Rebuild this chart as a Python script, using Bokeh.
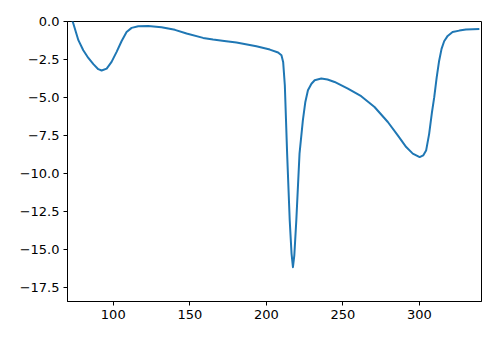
from bokeh.plotting import figure
from bokeh.models import FixedTicker, Range1d
from bokeh.embed import file_html
from bokeh.resources import INLINE

x_vals = [72, 73.9, 77.2, 80.4, 83.7, 87, 90.2, 92.4, 95.7, 98.9, 102.2, 105.4, 108.7,
          112, 116.3, 122.8, 131.5, 140.3, 147.9, 158.7, 165.2, 172.5, 180.5, 193.5,
          202.3, 207.7, 209.9, 211, 212.1, 213.6, 215.3, 216.5, 217.4, 218.3, 219.6,
          221.7, 223.9, 225.5, 227.2, 229.5, 231.6, 235.9, 240, 244.6, 253.3, 262,
          270.7, 279.4, 285.9, 291.4, 295.7, 300.2, 302.5, 304.4, 306.4, 308.2, 309.7,
          311.3, 312.9, 314.5, 316.2, 318.5, 321.7, 326.1, 330.4, 339.2]
y_vals = [0.4, -0.13, -1.23, -1.89, -2.4, -2.81, -3.14, -3.23, -3.1, -2.66, -2.0, -1.3,
          -0.69, -0.42, -0.31, -0.29, -0.38, -0.55, -0.79, -1.08, -1.19, -1.29, -1.39,
          -1.63, -1.85, -2.04, -2.22, -2.66, -4.2, -8.7, -13.1, -15.3, -16.18, -15.4,
          -13.1, -8.7, -6.5, -5.3, -4.53, -4.1, -3.87, -3.76, -3.82, -3.98, -4.42, -4.92,
          -5.63, -6.62, -7.5, -8.27, -8.7, -8.93, -8.82, -8.5, -7.4, -6.0, -5.0, -3.7,
          -2.6, -1.8, -1.3, -0.95, -0.69, -0.6, -0.53, -0.49]

x_ticks = [100, 150, 200, 250, 300]
y_ticks = [0, -2.5, -5, -7.5, -10, -12.5, -15, -17.5]
y_tick_labels = ["0.0", "\u22122.5", "\u22125.0", "\u22127.5", "\u221210.0", "\u221212.5",
                 "\u221215.0", "\u221217.5"]

p = figure(width=500, height=340, output_backend="svg", toolbar_location=None,
           x_range=Range1d(70.1, 340.6), y_range=Range1d(-18.44, 0))
p.min_border_left = 67
p.min_border_right = 18
p.min_border_top = 21
p.min_border_bottom = 39
p.frame_width = 414
p.frame_height = 280

p.line(x_vals, y_vals, line_color="#1f77b4", line_width=2, line_join="round")

p.xgrid.visible = False
p.ygrid.visible = False
p.outline_line_color = "black"
p.outline_line_alpha = 1
p.outline_line_width = 1

p.xaxis.ticker = FixedTicker(ticks=x_ticks)
p.yaxis.ticker = FixedTicker(ticks=y_ticks)
p.yaxis.major_label_overrides = {t: l for t, l in zip(y_ticks, y_tick_labels)}
for ax in (p.xaxis, p.yaxis):
    ax.axis_line_color = "black"
    ax.major_tick_line_color = "black"
    ax.major_tick_out = 4
    ax.major_tick_in = 0
    ax.minor_tick_line_color = None
    ax.major_label_text_font = "DejaVu Sans"
    ax.major_label_text_font_size = "13px"
    ax.major_label_text_color = "black"
    ax.major_label_standoff = 4

open("out.html", "w").write(file_html(p, INLINE))
